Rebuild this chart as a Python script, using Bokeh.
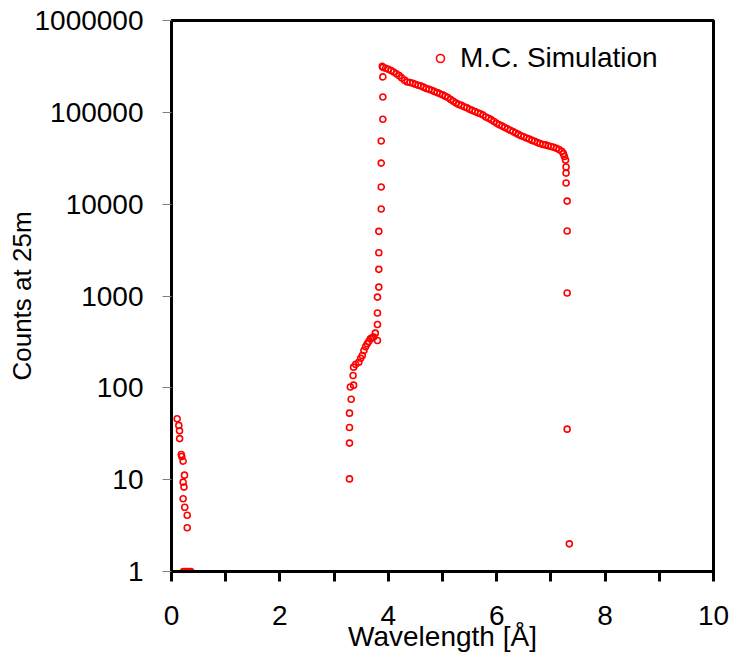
from bokeh.plotting import figure
from bokeh.models import (FixedTicker, NumeralTickFormatter, Range1d, Legend,
                          LegendItem, ColumnDataSource)
from bokeh.embed import file_html
from bokeh.resources import INLINE

# --- data ---
wl_short = [0.105, 0.135, 0.148, 0.150, 0.180, 0.190, 0.215, 0.240, 0.215, 0.230,
            0.215, 0.245, 0.290, 0.290, 0.22, 0.25, 0.28, 0.32, 0.36]
ct_short = [46, 39, 34, 28, 18.8, 17.9, 15.9, 11.2, 9.4, 8.3,
            6.2, 5.0, 4.1, 3.0, 1, 1, 1, 1, 1]

wl_edge = [3.284, 3.284, 3.284, 3.284, 3.315, 3.30, 3.36, 3.35, 3.36, 3.40, 3.456,
           3.49, 3.52, 3.55, 3.58, 3.61, 3.64, 3.67, 3.70, 3.73, 3.80, 3.76,
           3.80, 3.80, 3.80, 3.825, 3.825, 3.825, 3.825, 3.87, 3.87, 3.87,
           3.87, 3.90, 3.90, 3.90, 3.89]
ct_edge = [10.2, 25, 37, 53, 75, 102, 107, 136, 168, 180, 190,
           210, 225, 255, 280, 302, 320, 343, 350, 357, 328, 394,
           490, 652, 973, 1250, 1950, 2960, 5060, 8850, 15400, 28000,
           48700, 84000, 147000, 243000, 317000]

wl_main = [3.90, 3.95, 4.00, 4.05, 4.10, 4.15, 4.20, 4.25, 4.30, 4.35,
           4.40, 4.45, 4.50, 4.55, 4.60, 4.65, 4.70, 4.75, 4.80, 4.85,
           4.90, 4.95, 5.00, 5.05, 5.10, 5.15, 5.20, 5.25, 5.30, 5.35,
           5.40, 5.45, 5.50, 5.55, 5.60, 5.65, 5.70, 5.75, 5.80, 5.85,
           5.90, 5.95, 6.00, 6.05, 6.10, 6.15, 6.20, 6.25, 6.30, 6.35,
           6.40, 6.45, 6.50, 6.55, 6.60, 6.65, 6.70, 6.75, 6.80, 6.85,
           6.90, 6.95, 7.00, 7.05, 7.10, 7.15, 7.20, 7.23, 7.25, 7.27]
ct_main = [309000, 302000, 295000, 285000, 275000, 263000, 251000, 237000, 224000, 214000,
           211000, 207000, 202000, 197000, 194000, 188000, 182000, 178000, 174000, 169000,
           164000, 160000, 155000, 150000, 145000, 138000, 132000, 126000, 122000, 119000,
           115000, 112000, 108000, 105000, 102000, 98900, 96600, 93300, 89100, 86100,
           83200, 79400, 75900, 73300, 70800, 68400, 66100, 63800, 61700, 59600,
           57500, 55600, 54300, 52500, 51300, 49500, 48400, 46800, 45700, 44700,
           44200, 43200, 42500, 41700, 40700, 39400, 37600, 35500, 33100, 30200]

wl_tail = [7.28, 7.28, 7.28, 7.30, 7.30, 7.30, 7.30, 7.34]
ct_tail = [25400, 21800, 17000, 10800, 5100, 1080, 35.5, 2.0]

x_ticks = [0, 2, 4, 6, 8, 10]
x_minor = [1, 3, 5, 7, 9]
y_ticks = [1, 10, 100, 1000, 10000, 100000, 1000000]

x_title = "Wavelength [Å]"
y_title = "Counts at 25m"
series_name = "M.C. Simulation"

FONT = "Liberation Sans"

src = ColumnDataSource(dict(
    x=wl_short + wl_edge + wl_main + wl_tail,
    y=ct_short + ct_edge + ct_main + ct_tail,
))

p = figure(width=732, height=662, output_backend="svg", toolbar_location=None,
           y_axis_type="log", x_range=Range1d(0, 10), y_range=Range1d(1, 1000000),
           min_border_left=171, min_border_right=19, min_border_top=20,
           min_border_bottom=91)
p.background_fill_color = "white"
p.border_fill_color = "white"
p.outline_line_color = "black"
p.outline_line_width = 3
p.xgrid.visible = False
p.ygrid.visible = False

r = p.scatter("x", "y", source=src, marker="circle", size=6,
              fill_color=None, line_color="#ff0000", line_width=1.6)

# x axis
xa = p.xaxis[0]
xa.ticker = FixedTicker(ticks=x_ticks, minor_ticks=x_minor)
xa.axis_line_color = "black"
xa.axis_line_width = 3
xa.major_tick_line_color = "black"
xa.major_tick_line_width = 3
xa.major_tick_out = 10
xa.major_tick_in = 0
xa.minor_tick_line_color = "black"
xa.minor_tick_line_width = 3
xa.minor_tick_out = 10
xa.minor_tick_in = 0
xa.major_label_text_font = FONT
xa.major_label_text_font_size = "28px"
xa.major_label_text_color = "black"
xa.major_label_standoff = 24
xa.axis_label = x_title
xa.axis_label_text_font = FONT
xa.axis_label_text_font_size = "28px"
xa.axis_label_text_font_style = "normal"
xa.axis_label_text_color = "black"
xa.axis_label_standoff = -7

# y axis
ya = p.yaxis[0]
ya.ticker = FixedTicker(ticks=y_ticks, minor_ticks=[])
ya.formatter = NumeralTickFormatter(format="0")
ya.axis_line_color = "black"
ya.axis_line_width = 3
ya.major_tick_line_color = "#808080"
ya.major_tick_line_width = 1
ya.major_tick_out = 9
ya.major_tick_in = 0
ya.minor_tick_line_color = None
ya.major_label_text_font = FONT
ya.major_label_text_font_size = "28px"
ya.major_label_text_color = "black"
ya.major_label_standoff = 19
ya.axis_label = y_title
ya.axis_label_text_font = FONT
ya.axis_label_text_font_size = "26px"
ya.axis_label_text_font_style = "normal"
ya.axis_label_text_color = "black"
ya.axis_label_standoff = -6

legend = Legend(items=[LegendItem(label=series_name, renderers=[r])],
                location=(259, 497), padding=0, margin=0, spacing=0,
                glyph_width=20, glyph_height=20, label_standoff=10,
                label_text_font=FONT, label_text_font_size="28px",
                label_text_color="black", border_line_color=None,
                background_fill_alpha=0)
p.add_layout(legend)

open("out.html", "w").write(file_html(p, INLINE))
